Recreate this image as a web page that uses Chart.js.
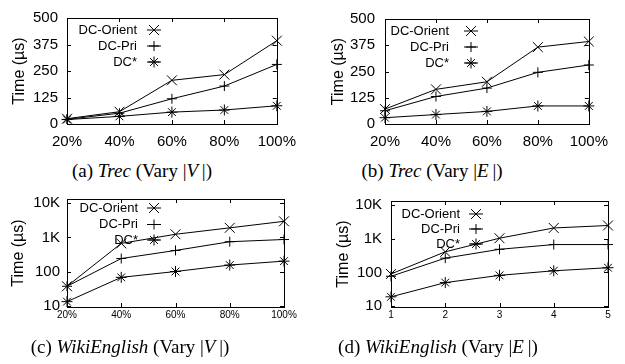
<!DOCTYPE html>
<html>
<head>
<meta charset="utf-8">
<script src="https://cdn.jsdelivr.net/npm/chart.js@4.4.0/dist/chart.umd.min.js"></script>
<style>
  body { margin: 0; background: #fff; width: 625px; height: 364px; position: relative; overflow: hidden; }
  .pane { position: absolute; }
  .cap { position: absolute; font-family: "Liberation Serif", "Times New Roman", serif; font-size: 19px; line-height: 19px;
         color: #000; white-space: nowrap; transform: translateX(-50%); }
</style>
</head>
<body>
<div class="pane" style="left:0;top:0"><canvas id="chartA" width="305" height="155"></canvas></div>
<div class="pane" style="left:312px;top:0"><canvas id="chartB" width="305" height="155"></canvas></div>
<div class="pane" style="left:0;top:183px"><canvas id="chartC" width="305" height="155"></canvas></div>
<div class="pane" style="left:312px;top:183px"><canvas id="chartD" width="305" height="155"></canvas></div>

<div class="cap" style="left:142px;top:161px">(a) <i>Trec</i> (Vary |<i>V</i>&#8201;|)</div>
<div class="cap" style="left:432px;top:161px">(b) <i>Trec</i> (Vary |<i>E</i>&#8201;|)</div>
<div class="cap" style="left:130px;top:337px">(c) <i>WikiEnglish</i> (Vary |<i>V</i>&#8201;|)</div>
<div class="cap" style="left:438px;top:337px">(d) <i>WikiEnglish</i> (Vary |<i>E</i>&#8201;|)</div>

<script>
// ---- data ----
const seriesNames = ['DC-Orient', 'DC-Pri', 'DC*'];
const pctLabels = ['20%', '40%', '60%', '80%', '100%'];
const stepLabels = ['1', '2', '3', '4', '5'];
const linTicks = [0, 125, 250, 375, 500];
const logTicks = [10, 100, 1000, 10000];

const trecV_orient = [25, 58, 206, 233, 393];
const trecV_pri    = [22, 51, 119, 179, 281];
const trecV_star   = [21, 36, 56, 66, 86];

const trecE_orient = [71, 165, 201, 366, 393];
const trecE_pri    = [63, 131, 171, 246, 281];
const trecE_star   = [30, 45, 60, 86, 86];

const wikiV_orient = [38, 668, 1230, 1890, 2920];
const wikiV_pri    = [38, 243, 417, 747, 867];
const wikiV_star   = [13.6, 69, 102, 157, 204];

const wikiE_orient = [90, 408, 1030, 2070, 2450];
const wikiE_pri    = [77, 265, 484, 669, 669];
const wikiE_star   = [19, 50, 82, 112, 138];

const SANS = '"Liberation Sans", Arial, sans-serif';
const marks = [
  { pointStyle: 'crossRot', radius: 7 },
  { pointStyle: 'cross', radius: 5 },
  { pointStyle: 'star', radius: 5.5 }
];

// draws a legend marker the same way chart.js draws its point styles
function drawMark(ctx, style, r, x, y) {
  const d = r * Math.SQRT1_2;
  ctx.beginPath();
  if (style === 'cross' || style === 'star') {
    ctx.moveTo(x - r, y); ctx.lineTo(x + r, y);
    ctx.moveTo(x, y - r); ctx.lineTo(x, y + r);
  }
  if (style === 'crossRot' || style === 'star') {
    ctx.moveTo(x - d, y - d); ctx.lineTo(x + d, y + d);
    ctx.moveTo(x - d, y + d); ctx.lineTo(x + d, y - d);
  }
  ctx.stroke();
}

// gnuplot style frame: box + inward ticks on all sides
const framePlugin = {
  id: 'frame',
  beforeDatasetsDraw(chart) {
    const { ctx, chartArea: a, scales } = chart;
    ctx.save();
    ctx.strokeStyle = '#000';
    ctx.lineWidth = 1;
    ctx.strokeRect(Math.round(a.left) + 0.5, Math.round(a.top) + 0.5,
                   Math.round(a.right - a.left), Math.round(a.bottom - a.top));
    const L = 4;
    ctx.beginPath();
    scales.y.ticks.forEach(t => {
      const py = Math.round(scales.y.getPixelForValue(t.value)) + 0.5;
      ctx.moveTo(a.left, py); ctx.lineTo(a.left + L, py);
      ctx.moveTo(a.right, py); ctx.lineTo(a.right - L, py);
    });
    scales.x.ticks.forEach((t, i) => {
      const px = Math.round(scales.x.getPixelForTick(i)) + 0.5;
      ctx.moveTo(px, a.bottom); ctx.lineTo(px, a.bottom - L);
      ctx.moveTo(px, a.top); ctx.lineTo(px, a.top + L);
    });
    ctx.stroke();
    ctx.restore();
  }
};

const keyPlugin = {
  id: 'key',
  afterDatasetsDraw(chart, args, opts) {
    const { ctx, chartArea: a } = chart;
    ctx.save();
    ctx.font = '13px ' + SANS;
    ctx.fillStyle = '#000';
    ctx.strokeStyle = '#000';
    ctx.lineWidth = 1;
    ctx.textAlign = 'right';
    ctx.textBaseline = 'middle';
    chart.data.datasets.forEach((ds, i) => {
      const y = a.top + opts.rows[i];
      ctx.fillText(ds.label, a.left + opts.textDx, y);
      const mx = a.left + opts.markDx;
      ctx.beginPath();
      ctx.moveTo(mx - 7, y); ctx.lineTo(mx + 7, y);
      ctx.stroke();
      drawMark(ctx, marks[i].pointStyle, marks[i].radius, mx, y);
    });
    ctx.restore();
  }
};

function buildChart(id, labels, series, isLog, geo) {
  const datasets = series.map((vals, i) => ({
    label: seriesNames[i],
    data: vals,
    borderColor: '#000',
    borderWidth: 1,
    tension: 0,
    fill: false,
    pointStyle: marks[i].pointStyle,
    pointRadius: marks[i].radius,
    pointBorderColor: '#000',
    pointBackgroundColor: '#000',
    pointBorderWidth: 1
  }));

  const yTicks = isLog ? logTicks : linTicks;

  new Chart(document.getElementById(id), {
    type: 'line',
    data: { labels: labels, datasets: datasets },
    options: {
      responsive: false,
      animation: false,
      events: [],
      layout: { padding: { left: 0, top: geo.top, right: 305 - geo.right, bottom: 0 } },
      plugins: {
        legend: { display: false },
        tooltip: { enabled: false },
        key: geo.key
      },
      scales: {
        x: {
          type: 'category',
          offset: false,
          grid: { display: false, drawTicks: false },
          border: { display: false },
          ticks: { color: '#000', font: { family: SANS, size: geo.xFont }, padding: geo.xPad,
                   maxRotation: 0, autoSkip: false },
          afterFit(s) { s.height = 155 - geo.bottom; }
        },
        y: {
          type: isLog ? 'logarithmic' : 'linear',
          min: isLog ? 9.5 : 0,
          max: isLog ? 13000 : 500,
          grid: { display: false, drawTicks: false },
          border: { display: false },
          ticks: {
            color: '#000',
            font: { family: SANS, size: 15 },
            padding: geo.yPad,
            callback: v => (v >= 1000 ? (v / 1000) + 'K' : String(v))
          },
          afterBuildTicks(s) { s.ticks = yTicks.map(v => ({ value: v })); },
          afterFit(s) { s.width = geo.left; },
          title: {
            display: true,
            text: 'Time (\u00b5s)',
            color: '#000',
            font: { family: SANS, size: 16 },
            padding: { top: geo.titlePad, bottom: 0 }
          }
        }
      }
    },
    plugins: [framePlugin, keyPlugin]
  });
}

buildChart('chartA', pctLabels, [trecV_orient, trecV_pri, trecV_star], false,
  { left: 67, right: 285, top: 13, bottom: 124, xFont: 15, xPad: 9, yPad: 9, titlePad: 10,
    key: { textDx: 70, markDx: 87, rows: [12, 28, 44] } });

buildChart('chartB', pctLabels, [trecE_orient, trecE_pri, trecE_star], false,
  { left: 73, right: 290, top: 13, bottom: 124, xFont: 15, xPad: 9, yPad: 10, titlePad: 17,
    key: { textDx: 64, markDx: 86, rows: [12, 28, 44] } });

buildChart('chartC', pctLabels, [wikiV_orient, wikiV_pri, wikiV_star], true,
  { left: 67, right: 284, top: 13, bottom: 124, xFont: 10, xPad: 2, yPad: 7, titlePad: 9,
    key: { textDx: 71, markDx: 87, rows: [9, 25.5, 41] } });

buildChart('chartD', stepLabels, [wikiE_orient, wikiE_pri, wikiE_star], true,
  { left: 79, right: 296, top: 13, bottom: 124, xFont: 10, xPad: 2, yPad: 9, titlePad: 22,
    key: { textDx: 69, markDx: 85, rows: [13, 28, 43] } });
</script>
</body>
</html>
